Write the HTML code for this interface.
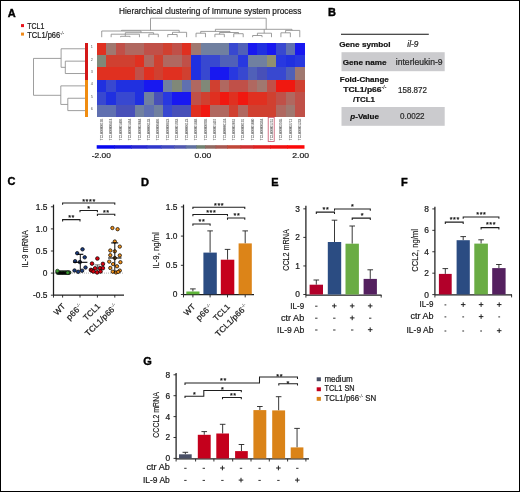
<!DOCTYPE html>
<html><head><meta charset="utf-8"><style>
html,body{margin:0;padding:0;background:#fff;}
body{width:520px;height:492px;overflow:hidden;}
svg{display:block;font-family:"Liberation Sans", sans-serif;will-change:transform;}
text{stroke:#1a1a1a;stroke-width:0.22px;}
text.nost{stroke:none;}
</style></head><body>
<svg width="520" height="492" viewBox="0 0 520 492">
<rect x="0" y="0" width="520" height="492" fill="#fff"/>
<text x="7.65" y="16.75" font-size="11.0" text-anchor="start" font-weight="bold" font-style="normal" fill="#000"  style="stroke:#000;stroke-width:0.4px">A</text>
<rect x="21.00" y="24.10" width="3.00" height="3.00" fill="#e8141c" />
<rect x="21.00" y="32.60" width="3.00" height="3.00" fill="#f08a1a" />
<text x="27.20" y="28.90" font-size="8.5" text-anchor="start" font-weight="normal" font-style="normal" fill="#1a1a1a" textLength="17.10" lengthAdjust="spacingAndGlyphs" >TCL1</text>
<text x="27.2" y="37.7" font-size="8.5" fill="#1a1a1a" textLength="37.0" lengthAdjust="spacingAndGlyphs">TCL1/p66<tspan font-size="4.8" dy="-2.8" style="stroke:none">-/-</tspan></text>
<text x="119.00" y="13.50" font-size="8.8" text-anchor="start" font-weight="normal" font-style="normal" fill="#1a1a1a" textLength="182.30" lengthAdjust="spacingAndGlyphs" >Hierarchical clustering of Immune system process</text>
<rect x="97.00" y="42.80" width="9.48" height="12.35" fill="#e03020" shape-rendering="crispEdges"/>
<rect x="106.43" y="42.80" width="9.48" height="12.35" fill="#a07870" shape-rendering="crispEdges"/>
<rect x="115.86" y="42.80" width="9.48" height="12.35" fill="#c05048" shape-rendering="crispEdges"/>
<rect x="125.30" y="42.80" width="9.48" height="12.35" fill="#b06860" shape-rendering="crispEdges"/>
<rect x="134.73" y="42.80" width="9.48" height="12.35" fill="#b06860" shape-rendering="crispEdges"/>
<rect x="144.16" y="42.80" width="9.48" height="12.35" fill="#c05048" shape-rendering="crispEdges"/>
<rect x="153.59" y="42.80" width="9.48" height="12.35" fill="#c05048" shape-rendering="crispEdges"/>
<rect x="163.02" y="42.80" width="9.48" height="12.35" fill="#d04030" shape-rendering="crispEdges"/>
<rect x="172.45" y="42.80" width="9.48" height="12.35" fill="#c05048" shape-rendering="crispEdges"/>
<rect x="181.89" y="42.80" width="9.48" height="12.35" fill="#e03020" shape-rendering="crispEdges"/>
<rect x="191.32" y="42.80" width="9.48" height="12.35" fill="#a07870" shape-rendering="crispEdges"/>
<rect x="200.75" y="42.80" width="9.48" height="12.35" fill="#7080a0" shape-rendering="crispEdges"/>
<rect x="210.18" y="42.80" width="9.48" height="12.35" fill="#7080a0" shape-rendering="crispEdges"/>
<rect x="219.61" y="42.80" width="9.48" height="12.35" fill="#7080a0" shape-rendering="crispEdges"/>
<rect x="229.05" y="42.80" width="9.48" height="12.35" fill="#3848d0" shape-rendering="crispEdges"/>
<rect x="238.48" y="42.80" width="9.48" height="12.35" fill="#5060b8" shape-rendering="crispEdges"/>
<rect x="247.91" y="42.80" width="9.48" height="12.35" fill="#1818f0" shape-rendering="crispEdges"/>
<rect x="257.34" y="42.80" width="9.48" height="12.35" fill="#2030e0" shape-rendering="crispEdges"/>
<rect x="266.77" y="42.80" width="9.48" height="12.35" fill="#1818f0" shape-rendering="crispEdges"/>
<rect x="276.20" y="42.80" width="9.48" height="12.35" fill="#3848d0" shape-rendering="crispEdges"/>
<rect x="285.64" y="42.80" width="9.48" height="12.35" fill="#6070b0" shape-rendering="crispEdges"/>
<rect x="295.07" y="42.80" width="9.48" height="12.35" fill="#1818f0" shape-rendering="crispEdges"/>
<rect x="97.00" y="55.10" width="9.48" height="12.35" fill="#808878" shape-rendering="crispEdges"/>
<rect x="106.43" y="55.10" width="9.48" height="12.35" fill="#d04030" shape-rendering="crispEdges"/>
<rect x="115.86" y="55.10" width="9.48" height="12.35" fill="#d04030" shape-rendering="crispEdges"/>
<rect x="125.30" y="55.10" width="9.48" height="12.35" fill="#d04030" shape-rendering="crispEdges"/>
<rect x="134.73" y="55.10" width="9.48" height="12.35" fill="#e03020" shape-rendering="crispEdges"/>
<rect x="144.16" y="55.10" width="9.48" height="12.35" fill="#b06860" shape-rendering="crispEdges"/>
<rect x="153.59" y="55.10" width="9.48" height="12.35" fill="#d04030" shape-rendering="crispEdges"/>
<rect x="163.02" y="55.10" width="9.48" height="12.35" fill="#b06860" shape-rendering="crispEdges"/>
<rect x="172.45" y="55.10" width="9.48" height="12.35" fill="#b06860" shape-rendering="crispEdges"/>
<rect x="181.89" y="55.10" width="9.48" height="12.35" fill="#c05048" shape-rendering="crispEdges"/>
<rect x="191.32" y="55.10" width="9.48" height="12.35" fill="#2030e0" shape-rendering="crispEdges"/>
<rect x="200.75" y="55.10" width="9.48" height="12.35" fill="#3848d0" shape-rendering="crispEdges"/>
<rect x="210.18" y="55.10" width="9.48" height="12.35" fill="#3848d0" shape-rendering="crispEdges"/>
<rect x="219.61" y="55.10" width="9.48" height="12.35" fill="#5060b8" shape-rendering="crispEdges"/>
<rect x="229.05" y="55.10" width="9.48" height="12.35" fill="#5060b8" shape-rendering="crispEdges"/>
<rect x="238.48" y="55.10" width="9.48" height="12.35" fill="#2838e0" shape-rendering="crispEdges"/>
<rect x="247.91" y="55.10" width="9.48" height="12.35" fill="#7080a0" shape-rendering="crispEdges"/>
<rect x="257.34" y="55.10" width="9.48" height="12.35" fill="#7080a0" shape-rendering="crispEdges"/>
<rect x="266.77" y="55.10" width="9.48" height="12.35" fill="#909070" shape-rendering="crispEdges"/>
<rect x="276.20" y="55.10" width="9.48" height="12.35" fill="#2838e0" shape-rendering="crispEdges"/>
<rect x="285.64" y="55.10" width="9.48" height="12.35" fill="#2030e0" shape-rendering="crispEdges"/>
<rect x="295.07" y="55.10" width="9.48" height="12.35" fill="#2838e0" shape-rendering="crispEdges"/>
<rect x="97.00" y="67.40" width="9.48" height="12.35" fill="#e03020" shape-rendering="crispEdges"/>
<rect x="106.43" y="67.40" width="9.48" height="12.35" fill="#e03020" shape-rendering="crispEdges"/>
<rect x="115.86" y="67.40" width="9.48" height="12.35" fill="#e03020" shape-rendering="crispEdges"/>
<rect x="125.30" y="67.40" width="9.48" height="12.35" fill="#e03020" shape-rendering="crispEdges"/>
<rect x="134.73" y="67.40" width="9.48" height="12.35" fill="#c05048" shape-rendering="crispEdges"/>
<rect x="144.16" y="67.40" width="9.48" height="12.35" fill="#e03020" shape-rendering="crispEdges"/>
<rect x="153.59" y="67.40" width="9.48" height="12.35" fill="#d04030" shape-rendering="crispEdges"/>
<rect x="163.02" y="67.40" width="9.48" height="12.35" fill="#e03020" shape-rendering="crispEdges"/>
<rect x="172.45" y="67.40" width="9.48" height="12.35" fill="#e03020" shape-rendering="crispEdges"/>
<rect x="181.89" y="67.40" width="9.48" height="12.35" fill="#d04030" shape-rendering="crispEdges"/>
<rect x="191.32" y="67.40" width="9.48" height="12.35" fill="#2030e0" shape-rendering="crispEdges"/>
<rect x="200.75" y="67.40" width="9.48" height="12.35" fill="#3848d0" shape-rendering="crispEdges"/>
<rect x="210.18" y="67.40" width="9.48" height="12.35" fill="#1818f0" shape-rendering="crispEdges"/>
<rect x="219.61" y="67.40" width="9.48" height="12.35" fill="#1818f0" shape-rendering="crispEdges"/>
<rect x="229.05" y="67.40" width="9.48" height="12.35" fill="#2838e0" shape-rendering="crispEdges"/>
<rect x="238.48" y="67.40" width="9.48" height="12.35" fill="#3848d0" shape-rendering="crispEdges"/>
<rect x="247.91" y="67.40" width="9.48" height="12.35" fill="#5060b8" shape-rendering="crispEdges"/>
<rect x="257.34" y="67.40" width="9.48" height="12.35" fill="#4850b8" shape-rendering="crispEdges"/>
<rect x="266.77" y="67.40" width="9.48" height="12.35" fill="#3848d0" shape-rendering="crispEdges"/>
<rect x="276.20" y="67.40" width="9.48" height="12.35" fill="#3848d0" shape-rendering="crispEdges"/>
<rect x="285.64" y="67.40" width="9.48" height="12.35" fill="#5060b8" shape-rendering="crispEdges"/>
<rect x="295.07" y="67.40" width="9.48" height="12.35" fill="#a07870" shape-rendering="crispEdges"/>
<rect x="97.00" y="79.70" width="9.48" height="12.35" fill="#2030e0" shape-rendering="crispEdges"/>
<rect x="106.43" y="79.70" width="9.48" height="12.35" fill="#3848d0" shape-rendering="crispEdges"/>
<rect x="115.86" y="79.70" width="9.48" height="12.35" fill="#2030e0" shape-rendering="crispEdges"/>
<rect x="125.30" y="79.70" width="9.48" height="12.35" fill="#2030e0" shape-rendering="crispEdges"/>
<rect x="134.73" y="79.70" width="9.48" height="12.35" fill="#2030e0" shape-rendering="crispEdges"/>
<rect x="144.16" y="79.70" width="9.48" height="12.35" fill="#1818f0" shape-rendering="crispEdges"/>
<rect x="153.59" y="79.70" width="9.48" height="12.35" fill="#1818f0" shape-rendering="crispEdges"/>
<rect x="163.02" y="79.70" width="9.48" height="12.35" fill="#7080a0" shape-rendering="crispEdges"/>
<rect x="172.45" y="79.70" width="9.48" height="12.35" fill="#808878" shape-rendering="crispEdges"/>
<rect x="181.89" y="79.70" width="9.48" height="12.35" fill="#6070b0" shape-rendering="crispEdges"/>
<rect x="191.32" y="79.70" width="9.48" height="12.35" fill="#b06860" shape-rendering="crispEdges"/>
<rect x="200.75" y="79.70" width="9.48" height="12.35" fill="#808878" shape-rendering="crispEdges"/>
<rect x="210.18" y="79.70" width="9.48" height="12.35" fill="#d04030" shape-rendering="crispEdges"/>
<rect x="219.61" y="79.70" width="9.48" height="12.35" fill="#b06860" shape-rendering="crispEdges"/>
<rect x="229.05" y="79.70" width="9.48" height="12.35" fill="#c05048" shape-rendering="crispEdges"/>
<rect x="238.48" y="79.70" width="9.48" height="12.35" fill="#c05048" shape-rendering="crispEdges"/>
<rect x="247.91" y="79.70" width="9.48" height="12.35" fill="#b06860" shape-rendering="crispEdges"/>
<rect x="257.34" y="79.70" width="9.48" height="12.35" fill="#a07870" shape-rendering="crispEdges"/>
<rect x="266.77" y="79.70" width="9.48" height="12.35" fill="#c05048" shape-rendering="crispEdges"/>
<rect x="276.20" y="79.70" width="9.48" height="12.35" fill="#f01810" shape-rendering="crispEdges"/>
<rect x="285.64" y="79.70" width="9.48" height="12.35" fill="#f01810" shape-rendering="crispEdges"/>
<rect x="295.07" y="79.70" width="9.48" height="12.35" fill="#d04030" shape-rendering="crispEdges"/>
<rect x="97.00" y="92.00" width="9.48" height="12.65" fill="#3848d0" shape-rendering="crispEdges"/>
<rect x="106.43" y="92.00" width="9.48" height="12.65" fill="#2030e0" shape-rendering="crispEdges"/>
<rect x="115.86" y="92.00" width="9.48" height="12.65" fill="#3848d0" shape-rendering="crispEdges"/>
<rect x="125.30" y="92.00" width="9.48" height="12.65" fill="#3848d0" shape-rendering="crispEdges"/>
<rect x="134.73" y="92.00" width="9.48" height="12.65" fill="#2030e0" shape-rendering="crispEdges"/>
<rect x="144.16" y="92.00" width="9.48" height="12.65" fill="#7080a0" shape-rendering="crispEdges"/>
<rect x="153.59" y="92.00" width="9.48" height="12.65" fill="#4850b8" shape-rendering="crispEdges"/>
<rect x="163.02" y="92.00" width="9.48" height="12.65" fill="#2838e0" shape-rendering="crispEdges"/>
<rect x="172.45" y="92.00" width="9.48" height="12.65" fill="#1818f0" shape-rendering="crispEdges"/>
<rect x="181.89" y="92.00" width="9.48" height="12.65" fill="#1818f0" shape-rendering="crispEdges"/>
<rect x="191.32" y="92.00" width="9.48" height="12.65" fill="#c05048" shape-rendering="crispEdges"/>
<rect x="200.75" y="92.00" width="9.48" height="12.65" fill="#d04030" shape-rendering="crispEdges"/>
<rect x="210.18" y="92.00" width="9.48" height="12.65" fill="#e03020" shape-rendering="crispEdges"/>
<rect x="219.61" y="92.00" width="9.48" height="12.65" fill="#f01810" shape-rendering="crispEdges"/>
<rect x="229.05" y="92.00" width="9.48" height="12.65" fill="#e03020" shape-rendering="crispEdges"/>
<rect x="238.48" y="92.00" width="9.48" height="12.65" fill="#f01810" shape-rendering="crispEdges"/>
<rect x="247.91" y="92.00" width="9.48" height="12.65" fill="#e03020" shape-rendering="crispEdges"/>
<rect x="257.34" y="92.00" width="9.48" height="12.65" fill="#e03020" shape-rendering="crispEdges"/>
<rect x="266.77" y="92.00" width="9.48" height="12.65" fill="#d04030" shape-rendering="crispEdges"/>
<rect x="276.20" y="92.00" width="9.48" height="12.65" fill="#c05048" shape-rendering="crispEdges"/>
<rect x="285.64" y="92.00" width="9.48" height="12.65" fill="#b06860" shape-rendering="crispEdges"/>
<rect x="295.07" y="92.00" width="9.48" height="12.65" fill="#c05048" shape-rendering="crispEdges"/>
<rect x="97.00" y="104.60" width="9.48" height="12.15" fill="#6070b0" shape-rendering="crispEdges"/>
<rect x="106.43" y="104.60" width="9.48" height="12.15" fill="#6070b0" shape-rendering="crispEdges"/>
<rect x="115.86" y="104.60" width="9.48" height="12.15" fill="#4850b8" shape-rendering="crispEdges"/>
<rect x="125.30" y="104.60" width="9.48" height="12.15" fill="#4850b8" shape-rendering="crispEdges"/>
<rect x="134.73" y="104.60" width="9.48" height="12.15" fill="#7080a0" shape-rendering="crispEdges"/>
<rect x="144.16" y="104.60" width="9.48" height="12.15" fill="#6070b0" shape-rendering="crispEdges"/>
<rect x="153.59" y="104.60" width="9.48" height="12.15" fill="#7080a0" shape-rendering="crispEdges"/>
<rect x="163.02" y="104.60" width="9.48" height="12.15" fill="#3848d0" shape-rendering="crispEdges"/>
<rect x="172.45" y="104.60" width="9.48" height="12.15" fill="#4850b8" shape-rendering="crispEdges"/>
<rect x="181.89" y="104.60" width="9.48" height="12.15" fill="#4850b8" shape-rendering="crispEdges"/>
<rect x="191.32" y="104.60" width="9.48" height="12.15" fill="#e03020" shape-rendering="crispEdges"/>
<rect x="200.75" y="104.60" width="9.48" height="12.15" fill="#f01810" shape-rendering="crispEdges"/>
<rect x="210.18" y="104.60" width="9.48" height="12.15" fill="#b06860" shape-rendering="crispEdges"/>
<rect x="219.61" y="104.60" width="9.48" height="12.15" fill="#b06860" shape-rendering="crispEdges"/>
<rect x="229.05" y="104.60" width="9.48" height="12.15" fill="#d04030" shape-rendering="crispEdges"/>
<rect x="238.48" y="104.60" width="9.48" height="12.15" fill="#b06860" shape-rendering="crispEdges"/>
<rect x="247.91" y="104.60" width="9.48" height="12.15" fill="#d04030" shape-rendering="crispEdges"/>
<rect x="257.34" y="104.60" width="9.48" height="12.15" fill="#d04030" shape-rendering="crispEdges"/>
<rect x="266.77" y="104.60" width="9.48" height="12.15" fill="#d04030" shape-rendering="crispEdges"/>
<rect x="276.20" y="104.60" width="9.48" height="12.15" fill="#b06860" shape-rendering="crispEdges"/>
<rect x="285.64" y="104.60" width="9.48" height="12.15" fill="#a07870" shape-rendering="crispEdges"/>
<rect x="295.07" y="104.60" width="9.48" height="12.15" fill="#c05048" shape-rendering="crispEdges"/>
<rect x="85.40" y="42.80" width="2.20" height="37.20" fill="#d41818" shape-rendering="crispEdges"/>
<rect x="85.40" y="80.00" width="2.20" height="36.60" fill="#f08c10" shape-rendering="crispEdges"/>
<text x="91.80" y="48.18" font-size="3.8" text-anchor="middle" font-weight="normal" font-style="normal" fill="#555" style="stroke:none">1</text>
<text x="91.80" y="60.55" font-size="3.8" text-anchor="middle" font-weight="normal" font-style="normal" fill="#555" style="stroke:none">2</text>
<text x="91.80" y="72.92" font-size="3.8" text-anchor="middle" font-weight="normal" font-style="normal" fill="#555" style="stroke:none">3</text>
<text x="91.80" y="85.28" font-size="3.8" text-anchor="middle" font-weight="normal" font-style="normal" fill="#555" style="stroke:none">4</text>
<text x="91.80" y="97.65" font-size="3.8" text-anchor="middle" font-weight="normal" font-style="normal" fill="#555" style="stroke:none">5</text>
<text x="91.80" y="110.02" font-size="3.8" text-anchor="middle" font-weight="normal" font-style="normal" fill="#555" style="stroke:none">6</text>
<line x1="61.10" y1="48.78" x2="85.00" y2="48.78" stroke="#8c8c8c" stroke-width="0.85"/>
<line x1="65.30" y1="61.15" x2="85.00" y2="61.15" stroke="#8c8c8c" stroke-width="0.85"/>
<line x1="65.30" y1="73.52" x2="85.00" y2="73.52" stroke="#8c8c8c" stroke-width="0.85"/>
<line x1="65.30" y1="61.15" x2="65.30" y2="73.52" stroke="#8c8c8c" stroke-width="0.85"/>
<line x1="61.10" y1="67.33" x2="65.30" y2="67.33" stroke="#8c8c8c" stroke-width="0.85"/>
<line x1="61.10" y1="48.78" x2="61.10" y2="67.33" stroke="#8c8c8c" stroke-width="0.85"/>
<line x1="33.50" y1="58.40" x2="61.10" y2="58.40" stroke="#8c8c8c" stroke-width="0.85"/>
<line x1="60.80" y1="85.88" x2="85.00" y2="85.88" stroke="#8c8c8c" stroke-width="0.85"/>
<line x1="67.80" y1="98.25" x2="85.00" y2="98.25" stroke="#8c8c8c" stroke-width="0.85"/>
<line x1="67.80" y1="110.62" x2="85.00" y2="110.62" stroke="#8c8c8c" stroke-width="0.85"/>
<line x1="67.80" y1="98.25" x2="67.80" y2="110.62" stroke="#8c8c8c" stroke-width="0.85"/>
<line x1="60.80" y1="104.43" x2="67.80" y2="104.43" stroke="#8c8c8c" stroke-width="0.85"/>
<line x1="60.80" y1="85.88" x2="60.80" y2="104.43" stroke="#8c8c8c" stroke-width="0.85"/>
<line x1="33.50" y1="95.30" x2="60.80" y2="95.30" stroke="#8c8c8c" stroke-width="0.85"/>
<line x1="33.50" y1="58.40" x2="33.50" y2="95.30" stroke="#8c8c8c" stroke-width="0.85"/>
<line x1="150.50" y1="18.20" x2="266.20" y2="18.20" stroke="#8c8c8c" stroke-width="0.85"/>
<line x1="150.50" y1="18.20" x2="150.50" y2="30.30" stroke="#8c8c8c" stroke-width="0.85"/>
<line x1="266.20" y1="18.20" x2="266.20" y2="29.30" stroke="#8c8c8c" stroke-width="0.85"/>
<line x1="121.50" y1="30.30" x2="179.20" y2="30.30" stroke="#8c8c8c" stroke-width="0.85"/>
<line x1="121.50" y1="30.30" x2="121.50" y2="31.00" stroke="#8c8c8c" stroke-width="0.85"/>
<line x1="101.72" y1="31.00" x2="141.00" y2="31.00" stroke="#8c8c8c" stroke-width="0.85"/>
<line x1="101.72" y1="31.00" x2="101.72" y2="37.20" stroke="#8c8c8c" stroke-width="0.85"/>
<line x1="141.00" y1="31.00" x2="141.00" y2="32.70" stroke="#8c8c8c" stroke-width="0.85"/>
<line x1="125.30" y1="32.70" x2="153.60" y2="32.70" stroke="#8c8c8c" stroke-width="0.85"/>
<line x1="125.30" y1="32.70" x2="125.30" y2="34.20" stroke="#8c8c8c" stroke-width="0.85"/>
<line x1="111.15" y1="34.20" x2="139.44" y2="34.20" stroke="#8c8c8c" stroke-width="0.85"/>
<line x1="111.15" y1="34.20" x2="111.15" y2="37.20" stroke="#8c8c8c" stroke-width="0.85"/>
<line x1="139.44" y1="34.20" x2="139.44" y2="37.20" stroke="#8c8c8c" stroke-width="0.85"/>
<line x1="125.30" y1="34.20" x2="125.30" y2="36.30" stroke="#8c8c8c" stroke-width="0.85"/>
<line x1="120.58" y1="36.30" x2="130.01" y2="36.30" stroke="#8c8c8c" stroke-width="0.85"/>
<line x1="120.58" y1="36.30" x2="120.58" y2="37.20" stroke="#8c8c8c" stroke-width="0.85"/>
<line x1="130.01" y1="36.30" x2="130.01" y2="37.20" stroke="#8c8c8c" stroke-width="0.85"/>
<line x1="153.60" y1="32.70" x2="153.60" y2="34.20" stroke="#8c8c8c" stroke-width="0.85"/>
<line x1="148.88" y1="34.20" x2="158.31" y2="34.20" stroke="#8c8c8c" stroke-width="0.85"/>
<line x1="148.88" y1="34.20" x2="148.88" y2="37.20" stroke="#8c8c8c" stroke-width="0.85"/>
<line x1="158.31" y1="34.20" x2="158.31" y2="37.20" stroke="#8c8c8c" stroke-width="0.85"/>
<line x1="179.20" y1="30.30" x2="179.20" y2="32.30" stroke="#8c8c8c" stroke-width="0.85"/>
<line x1="172.50" y1="32.30" x2="186.60" y2="32.30" stroke="#8c8c8c" stroke-width="0.85"/>
<line x1="186.60" y1="32.30" x2="186.60" y2="37.20" stroke="#8c8c8c" stroke-width="0.85"/>
<line x1="172.50" y1="32.30" x2="172.50" y2="34.50" stroke="#8c8c8c" stroke-width="0.85"/>
<line x1="167.74" y1="34.50" x2="177.17" y2="34.50" stroke="#8c8c8c" stroke-width="0.85"/>
<line x1="167.74" y1="34.50" x2="167.74" y2="37.20" stroke="#8c8c8c" stroke-width="0.85"/>
<line x1="177.17" y1="34.50" x2="177.17" y2="37.20" stroke="#8c8c8c" stroke-width="0.85"/>
<line x1="215.40" y1="29.30" x2="292.00" y2="29.30" stroke="#8c8c8c" stroke-width="0.85"/>
<line x1="215.40" y1="29.30" x2="215.40" y2="31.40" stroke="#8c8c8c" stroke-width="0.85"/>
<line x1="200.70" y1="31.40" x2="230.00" y2="31.40" stroke="#8c8c8c" stroke-width="0.85"/>
<line x1="200.70" y1="31.40" x2="200.70" y2="33.20" stroke="#8c8c8c" stroke-width="0.85"/>
<line x1="196.03" y1="33.20" x2="205.47" y2="33.20" stroke="#8c8c8c" stroke-width="0.85"/>
<line x1="196.03" y1="33.20" x2="196.03" y2="37.20" stroke="#8c8c8c" stroke-width="0.85"/>
<line x1="205.47" y1="33.20" x2="205.47" y2="37.20" stroke="#8c8c8c" stroke-width="0.85"/>
<line x1="230.00" y1="31.40" x2="230.00" y2="32.50" stroke="#8c8c8c" stroke-width="0.85"/>
<line x1="219.60" y1="32.50" x2="238.50" y2="32.50" stroke="#8c8c8c" stroke-width="0.85"/>
<line x1="219.60" y1="32.50" x2="219.60" y2="34.20" stroke="#8c8c8c" stroke-width="0.85"/>
<line x1="214.90" y1="34.20" x2="224.33" y2="34.20" stroke="#8c8c8c" stroke-width="0.85"/>
<line x1="214.90" y1="34.20" x2="214.90" y2="37.20" stroke="#8c8c8c" stroke-width="0.85"/>
<line x1="224.33" y1="34.20" x2="224.33" y2="37.20" stroke="#8c8c8c" stroke-width="0.85"/>
<line x1="238.50" y1="32.50" x2="238.50" y2="33.70" stroke="#8c8c8c" stroke-width="0.85"/>
<line x1="233.76" y1="33.70" x2="243.19" y2="33.70" stroke="#8c8c8c" stroke-width="0.85"/>
<line x1="233.76" y1="33.70" x2="233.76" y2="37.20" stroke="#8c8c8c" stroke-width="0.85"/>
<line x1="243.19" y1="33.70" x2="243.19" y2="37.20" stroke="#8c8c8c" stroke-width="0.85"/>
<line x1="264.20" y1="29.30" x2="264.20" y2="33.20" stroke="#8c8c8c" stroke-width="0.85"/>
<line x1="257.40" y1="33.20" x2="271.49" y2="33.20" stroke="#8c8c8c" stroke-width="0.85"/>
<line x1="271.49" y1="33.20" x2="271.49" y2="37.20" stroke="#8c8c8c" stroke-width="0.85"/>
<line x1="257.40" y1="33.20" x2="257.40" y2="35.50" stroke="#8c8c8c" stroke-width="0.85"/>
<line x1="252.62" y1="35.50" x2="262.06" y2="35.50" stroke="#8c8c8c" stroke-width="0.85"/>
<line x1="252.62" y1="35.50" x2="252.62" y2="37.20" stroke="#8c8c8c" stroke-width="0.85"/>
<line x1="262.06" y1="35.50" x2="262.06" y2="37.20" stroke="#8c8c8c" stroke-width="0.85"/>
<line x1="292.00" y1="29.30" x2="292.00" y2="30.40" stroke="#8c8c8c" stroke-width="0.85"/>
<line x1="285.60" y1="30.40" x2="299.78" y2="30.40" stroke="#8c8c8c" stroke-width="0.85"/>
<line x1="299.78" y1="30.40" x2="299.78" y2="37.20" stroke="#8c8c8c" stroke-width="0.85"/>
<line x1="285.60" y1="30.40" x2="285.60" y2="32.80" stroke="#8c8c8c" stroke-width="0.85"/>
<line x1="280.92" y1="32.80" x2="290.35" y2="32.80" stroke="#8c8c8c" stroke-width="0.85"/>
<line x1="280.92" y1="32.80" x2="280.92" y2="37.20" stroke="#8c8c8c" stroke-width="0.85"/>
<line x1="290.35" y1="32.80" x2="290.35" y2="37.20" stroke="#8c8c8c" stroke-width="0.85"/>
<text x="102.92" y="140.20" font-size="3.6" fill="#555" style="stroke:#777;stroke-width:0.08px" transform="rotate(-90 102.92 140.20)" textLength="21.5" lengthAdjust="spacingAndGlyphs">TC1400000196</text>
<text x="112.35" y="140.20" font-size="3.6" fill="#555" style="stroke:#777;stroke-width:0.08px" transform="rotate(-90 112.35 140.20)" textLength="21.5" lengthAdjust="spacingAndGlyphs">TC1400000474</text>
<text x="121.78" y="140.20" font-size="3.6" fill="#555" style="stroke:#777;stroke-width:0.08px" transform="rotate(-90 121.78 140.20)" textLength="21.5" lengthAdjust="spacingAndGlyphs">TC1400001406</text>
<text x="131.21" y="140.20" font-size="3.6" fill="#555" style="stroke:#777;stroke-width:0.08px" transform="rotate(-90 131.21 140.20)" textLength="21.5" lengthAdjust="spacingAndGlyphs">TC1400001464</text>
<text x="140.64" y="140.20" font-size="3.6" fill="#555" style="stroke:#777;stroke-width:0.08px" transform="rotate(-90 140.64 140.20)" textLength="21.5" lengthAdjust="spacingAndGlyphs">TC1400002044</text>
<text x="150.07" y="140.20" font-size="3.6" fill="#555" style="stroke:#777;stroke-width:0.08px" transform="rotate(-90 150.07 140.20)" textLength="21.5" lengthAdjust="spacingAndGlyphs">TC1400001133</text>
<text x="159.51" y="140.20" font-size="3.6" fill="#555" style="stroke:#777;stroke-width:0.08px" transform="rotate(-90 159.51 140.20)" textLength="21.5" lengthAdjust="spacingAndGlyphs">TC1400000406</text>
<text x="168.94" y="140.20" font-size="3.6" fill="#555" style="stroke:#777;stroke-width:0.08px" transform="rotate(-90 168.94 140.20)" textLength="21.5" lengthAdjust="spacingAndGlyphs">TC1400000823</text>
<text x="178.37" y="140.20" font-size="3.6" fill="#555" style="stroke:#777;stroke-width:0.08px" transform="rotate(-90 178.37 140.20)" textLength="21.5" lengthAdjust="spacingAndGlyphs">TC1400001963</text>
<text x="187.80" y="140.20" font-size="3.6" fill="#555" style="stroke:#777;stroke-width:0.08px" transform="rotate(-90 187.80 140.20)" textLength="21.5" lengthAdjust="spacingAndGlyphs">TC1400001123</text>
<text x="197.23" y="140.20" font-size="3.6" fill="#555" style="stroke:#777;stroke-width:0.08px" transform="rotate(-90 197.23 140.20)" textLength="21.5" lengthAdjust="spacingAndGlyphs">TC1400001848</text>
<text x="206.67" y="140.20" font-size="3.6" fill="#555" style="stroke:#777;stroke-width:0.08px" transform="rotate(-90 206.67 140.20)" textLength="21.5" lengthAdjust="spacingAndGlyphs">TC1400000996</text>
<text x="216.10" y="140.20" font-size="3.6" fill="#555" style="stroke:#777;stroke-width:0.08px" transform="rotate(-90 216.10 140.20)" textLength="21.5" lengthAdjust="spacingAndGlyphs">TC1400001437</text>
<text x="225.53" y="140.20" font-size="3.6" fill="#555" style="stroke:#777;stroke-width:0.08px" transform="rotate(-90 225.53 140.20)" textLength="21.5" lengthAdjust="spacingAndGlyphs">TC1400001118</text>
<text x="234.96" y="140.20" font-size="3.6" fill="#555" style="stroke:#777;stroke-width:0.08px" transform="rotate(-90 234.96 140.20)" textLength="21.5" lengthAdjust="spacingAndGlyphs">TC1400002062</text>
<text x="244.39" y="140.20" font-size="3.6" fill="#555" style="stroke:#777;stroke-width:0.08px" transform="rotate(-90 244.39 140.20)" textLength="21.5" lengthAdjust="spacingAndGlyphs">TC1400000191</text>
<text x="253.82" y="140.20" font-size="3.6" fill="#555" style="stroke:#777;stroke-width:0.08px" transform="rotate(-90 253.82 140.20)" textLength="21.5" lengthAdjust="spacingAndGlyphs">TC1400001040</text>
<text x="263.26" y="140.20" font-size="3.6" fill="#555" style="stroke:#777;stroke-width:0.08px" transform="rotate(-90 263.26 140.20)" textLength="21.5" lengthAdjust="spacingAndGlyphs">TC1400000334</text>
<text x="272.69" y="140.20" font-size="3.6" fill="#555" style="stroke:#777;stroke-width:0.08px" transform="rotate(-90 272.69 140.20)" textLength="21.5" lengthAdjust="spacingAndGlyphs">TC1400001751</text>
<text x="282.12" y="140.20" font-size="3.6" fill="#555" style="stroke:#777;stroke-width:0.08px" transform="rotate(-90 282.12 140.20)" textLength="21.5" lengthAdjust="spacingAndGlyphs">TC1400002105</text>
<text x="291.55" y="140.20" font-size="3.6" fill="#555" style="stroke:#777;stroke-width:0.08px" transform="rotate(-90 291.55 140.20)" textLength="21.5" lengthAdjust="spacingAndGlyphs">TC1400002712</text>
<text x="300.98" y="140.20" font-size="3.6" fill="#555" style="stroke:#777;stroke-width:0.08px" transform="rotate(-90 300.98 140.20)" textLength="21.5" lengthAdjust="spacingAndGlyphs">TC1400001233</text>
<rect x="268.2" y="117.4" width="6.0" height="24.0" fill="none" stroke="#c8506a" stroke-width="0.8"/>
<rect x="96.70" y="145.20" width="18.00" height="3.50" fill="#0808f0" />
<rect x="114.00" y="145.20" width="17.70" height="3.50" fill="#1515e0" />
<rect x="131.00" y="145.20" width="16.40" height="3.50" fill="#2626d2" />
<rect x="146.70" y="145.20" width="14.90" height="3.50" fill="#3038cc" />
<rect x="160.90" y="145.20" width="13.90" height="3.50" fill="#4048c0" />
<rect x="174.10" y="145.20" width="12.30" height="3.50" fill="#5058b0" />
<rect x="185.70" y="145.20" width="11.30" height="3.50" fill="#6070a0" />
<rect x="196.30" y="145.20" width="9.60" height="3.50" fill="#708070" />
<rect x="205.20" y="145.20" width="11.10" height="3.50" fill="#906860" />
<rect x="215.60" y="145.20" width="12.40" height="3.50" fill="#a85850" />
<rect x="227.30" y="145.20" width="13.90" height="3.50" fill="#c04838" />
<rect x="240.50" y="145.20" width="13.70" height="3.50" fill="#d03030" />
<rect x="253.50" y="145.20" width="17.50" height="3.50" fill="#e02020" />
<rect x="270.30" y="145.20" width="17.50" height="3.50" fill="#f01010" />
<rect x="287.10" y="145.20" width="17.40" height="3.50" fill="#fc0808" />
<text x="91.80" y="157.80" font-size="8.0" text-anchor="start" font-weight="normal" font-style="normal" fill="#222" textLength="19.00" lengthAdjust="spacingAndGlyphs" >-2.00</text>
<text x="194.60" y="157.80" font-size="8.0" text-anchor="start" font-weight="normal" font-style="normal" fill="#222" textLength="16.60" lengthAdjust="spacingAndGlyphs" >0.00</text>
<text x="292.30" y="157.80" font-size="8.0" text-anchor="start" font-weight="normal" font-style="normal" fill="#222" textLength="16.80" lengthAdjust="spacingAndGlyphs" >2.00</text>
<text x="328.05" y="16.45" font-size="11.0" text-anchor="start" font-weight="bold" font-style="normal" fill="#000"  style="stroke:#000;stroke-width:0.4px">B</text>
<line x1="341.00" y1="34.20" x2="428.80" y2="34.20" stroke="#111" stroke-width="1.1"/>
<rect x="341.50" y="52.20" width="103.20" height="19.00" fill="#cbcbce" />
<rect x="341.50" y="107.00" width="103.20" height="18.80" fill="#cbcbce" />
<text x="339.20" y="47.40" font-size="7.9" text-anchor="start" font-weight="bold" font-style="normal" fill="#111" textLength="51.30" lengthAdjust="spacingAndGlyphs" >Gene symbol</text>
<text x="407.30" y="47.30" font-size="8.2" text-anchor="start" font-weight="normal" font-style="italic" fill="#333" textLength="11.10" lengthAdjust="spacingAndGlyphs" >il-9</text>
<text x="342.70" y="64.80" font-size="7.9" text-anchor="start" font-weight="bold" font-style="normal" fill="#111" textLength="43.80" lengthAdjust="spacingAndGlyphs" >Gene name</text>
<text x="395.80" y="64.80" font-size="8.2" text-anchor="start" font-weight="normal" font-style="normal" fill="#333" textLength="46.80" lengthAdjust="spacingAndGlyphs" >interleukin-9</text>
<text x="364.30" y="82.10" font-size="7.9" text-anchor="middle" font-weight="bold" font-style="normal" fill="#111" textLength="48.90" lengthAdjust="spacingAndGlyphs" >Fold-Change</text>
<text x="343.2" y="92.1" font-size="7.9" font-weight="bold" fill="#111" textLength="43.3" lengthAdjust="spacingAndGlyphs">TCL1/p66<tspan font-size="4.8" dy="-3.4" style="stroke:none">-/-</tspan></text>
<text x="353.00" y="101.70" font-size="7.9" text-anchor="start" font-weight="bold" font-style="normal" fill="#111" textLength="22.00" lengthAdjust="spacingAndGlyphs" >/TCL1</text>
<text x="398.00" y="93.10" font-size="8.2" text-anchor="start" font-weight="normal" font-style="normal" fill="#333" textLength="29.00" lengthAdjust="spacingAndGlyphs" >158.872</text>
<text x="350.3" y="119.3" font-size="7.9" font-weight="bold" fill="#111" textLength="28.6" lengthAdjust="spacingAndGlyphs"><tspan font-style="italic">p</tspan>-Value</text>
<text x="400.00" y="119.30" font-size="8.2" text-anchor="start" font-weight="normal" font-style="normal" fill="#333" textLength="24.60" lengthAdjust="spacingAndGlyphs" >0.0022</text>
<text x="7.45" y="185.45" font-size="11.0" text-anchor="start" font-weight="bold" font-style="normal" fill="#000"  style="stroke:#000;stroke-width:0.4px">C</text>
<line x1="53.50" y1="204.60" x2="53.50" y2="295.00" stroke="#1e1e1e" stroke-width="1.25"/>
<line x1="50.90" y1="206.80" x2="53.50" y2="206.80" stroke="#1e1e1e" stroke-width="0.9"/>
<text x="47.50" y="209.70" font-size="8.4" text-anchor="end" font-weight="normal" font-style="normal" fill="#1a1a1a" >1.5</text>
<line x1="50.90" y1="228.90" x2="53.50" y2="228.90" stroke="#1e1e1e" stroke-width="0.9"/>
<text x="47.50" y="231.80" font-size="8.4" text-anchor="end" font-weight="normal" font-style="normal" fill="#1a1a1a" >1.0</text>
<line x1="50.90" y1="251.00" x2="53.50" y2="251.00" stroke="#1e1e1e" stroke-width="0.9"/>
<text x="47.50" y="253.90" font-size="8.4" text-anchor="end" font-weight="normal" font-style="normal" fill="#1a1a1a" >0.5</text>
<line x1="50.90" y1="273.10" x2="53.50" y2="273.10" stroke="#1e1e1e" stroke-width="0.9"/>
<text x="47.50" y="276.00" font-size="8.4" text-anchor="end" font-weight="normal" font-style="normal" fill="#1a1a1a" >0</text>
<line x1="50.90" y1="295.20" x2="53.50" y2="295.20" stroke="#1e1e1e" stroke-width="0.9"/>
<text x="47.50" y="298.10" font-size="8.4" text-anchor="end" font-weight="normal" font-style="normal" fill="#1a1a1a" >-0.5</text>
<line x1="53.50" y1="295.00" x2="124.00" y2="295.00" stroke="#1e1e1e" stroke-width="1.25"/>
<line x1="53.50" y1="295.00" x2="53.50" y2="297.60" stroke="#1e1e1e" stroke-width="0.9"/>
<line x1="62.60" y1="295.00" x2="62.60" y2="297.60" stroke="#1e1e1e" stroke-width="0.9"/>
<line x1="80.00" y1="295.00" x2="80.00" y2="297.60" stroke="#1e1e1e" stroke-width="0.9"/>
<line x1="97.40" y1="295.00" x2="97.40" y2="297.60" stroke="#1e1e1e" stroke-width="0.9"/>
<line x1="114.80" y1="295.00" x2="114.80" y2="297.60" stroke="#1e1e1e" stroke-width="0.9"/>
<line x1="54" y1="273.10" x2="124" y2="273.10" stroke="#777" stroke-width="0.7" stroke-dasharray="0.8,1.2"/>
<text x="27.80" y="248.90" font-size="8.6" fill="#1a1a1a" style="stroke-width:0.15px" text-anchor="middle" transform="rotate(-90 27.80 248.90)" textLength="37.40" lengthAdjust="spacingAndGlyphs">IL-9 mRNA</text>
<circle cx="57.60" cy="272.60" r="1.8" fill="#2f7f2f" stroke="#000" stroke-width="0.8"/>
<circle cx="59.05" cy="272.60" r="1.8" fill="#2f7f2f" stroke="#000" stroke-width="0.8"/>
<circle cx="60.50" cy="272.60" r="1.8" fill="#2f7f2f" stroke="#000" stroke-width="0.8"/>
<circle cx="61.95" cy="272.60" r="1.8" fill="#2f7f2f" stroke="#000" stroke-width="0.8"/>
<circle cx="63.40" cy="272.60" r="1.8" fill="#2f7f2f" stroke="#000" stroke-width="0.8"/>
<circle cx="64.85" cy="272.60" r="1.8" fill="#2f7f2f" stroke="#000" stroke-width="0.8"/>
<circle cx="66.30" cy="272.60" r="1.8" fill="#2f7f2f" stroke="#000" stroke-width="0.8"/>
<circle cx="67.75" cy="272.60" r="1.8" fill="#2f7f2f" stroke="#000" stroke-width="0.8"/>
<circle cx="69.20" cy="272.60" r="1.8" fill="#2f7f2f" stroke="#000" stroke-width="0.8"/>
<line x1="58.20" y1="273.00" x2="69.60" y2="273.00" stroke="#050505" stroke-width="2.4"/>
<circle cx="57.40" cy="271.00" r="1.8" fill="#3a9a30" stroke="#111" stroke-width="0.6"/>
<circle cx="67.70" cy="272.70" r="1.8" fill="#3a9a30" stroke="#111" stroke-width="0.6"/>
<circle cx="82.50" cy="249.30" r="1.75" fill="#1b3c7e" stroke="#000" stroke-width="0.7"/>
<circle cx="77.20" cy="253.20" r="1.75" fill="#1b3c7e" stroke="#000" stroke-width="0.7"/>
<circle cx="84.70" cy="257.30" r="1.75" fill="#1b3c7e" stroke="#000" stroke-width="0.7"/>
<circle cx="75.10" cy="261.20" r="1.75" fill="#1b3c7e" stroke="#000" stroke-width="0.7"/>
<circle cx="79.90" cy="262.10" r="1.75" fill="#1b3c7e" stroke="#000" stroke-width="0.7"/>
<circle cx="85.50" cy="267.50" r="1.75" fill="#1b3c7e" stroke="#000" stroke-width="0.7"/>
<circle cx="74.50" cy="270.50" r="1.75" fill="#1b3c7e" stroke="#000" stroke-width="0.7"/>
<circle cx="78.20" cy="271.80" r="1.75" fill="#1b3c7e" stroke="#000" stroke-width="0.7"/>
<circle cx="82.10" cy="270.70" r="1.75" fill="#1b3c7e" stroke="#000" stroke-width="0.7"/>
<line x1="73.20" y1="262.30" x2="87.40" y2="262.30" stroke="#000" stroke-width="1.1"/>
<line x1="80.30" y1="254.30" x2="80.30" y2="270.70" stroke="#111" stroke-width="1.0"/>
<line x1="77.30" y1="254.30" x2="83.30" y2="254.30" stroke="#000" stroke-width="1.1"/>
<line x1="97.40" y1="264.90" x2="97.40" y2="272.70" stroke="#333" stroke-width="0.8"/>
<line x1="94.50" y1="264.90" x2="100.20" y2="264.90" stroke="#444" stroke-width="0.8"/>
<circle cx="97.40" cy="258.50" r="1.85" fill="#d8000e" stroke="#000" stroke-width="0.7"/>
<circle cx="92.00" cy="263.60" r="1.85" fill="#d8000e" stroke="#000" stroke-width="0.7"/>
<circle cx="102.90" cy="263.90" r="1.85" fill="#d8000e" stroke="#000" stroke-width="0.7"/>
<circle cx="95.10" cy="268.30" r="1.85" fill="#d8000e" stroke="#000" stroke-width="0.7"/>
<circle cx="99.90" cy="268.20" r="1.85" fill="#d8000e" stroke="#000" stroke-width="0.7"/>
<circle cx="102.90" cy="268.10" r="1.85" fill="#d8000e" stroke="#000" stroke-width="0.7"/>
<circle cx="90.90" cy="269.90" r="1.85" fill="#d8000e" stroke="#000" stroke-width="0.7"/>
<circle cx="91.70" cy="270.50" r="1.85" fill="#d8000e" stroke="#000" stroke-width="0.7"/>
<circle cx="93.40" cy="271.50" r="1.85" fill="#d8000e" stroke="#000" stroke-width="0.7"/>
<circle cx="97.10" cy="272.40" r="1.85" fill="#d8000e" stroke="#000" stroke-width="0.7"/>
<circle cx="100.50" cy="271.50" r="1.85" fill="#d8000e" stroke="#000" stroke-width="0.7"/>
<circle cx="112.40" cy="228.00" r="1.7" fill="#f0901a" stroke="#000" stroke-width="0.7"/>
<circle cx="117.60" cy="229.20" r="1.7" fill="#f0901a" stroke="#000" stroke-width="0.7"/>
<circle cx="114.80" cy="241.50" r="1.7" fill="#f0901a" stroke="#000" stroke-width="0.7"/>
<circle cx="119.80" cy="246.60" r="1.7" fill="#f0901a" stroke="#000" stroke-width="0.7"/>
<circle cx="110.30" cy="250.50" r="1.7" fill="#f0901a" stroke="#000" stroke-width="0.7"/>
<circle cx="114.80" cy="251.30" r="1.7" fill="#f0901a" stroke="#000" stroke-width="0.7"/>
<circle cx="110.30" cy="255.20" r="1.7" fill="#f0901a" stroke="#000" stroke-width="0.7"/>
<circle cx="119.80" cy="255.40" r="1.7" fill="#f0901a" stroke="#000" stroke-width="0.7"/>
<circle cx="114.80" cy="258.00" r="1.7" fill="#f0901a" stroke="#000" stroke-width="0.7"/>
<circle cx="109.20" cy="261.60" r="1.7" fill="#f0901a" stroke="#000" stroke-width="0.7"/>
<circle cx="120.40" cy="262.20" r="1.7" fill="#f0901a" stroke="#000" stroke-width="0.7"/>
<circle cx="113.10" cy="264.10" r="1.7" fill="#f0901a" stroke="#000" stroke-width="0.7"/>
<circle cx="117.00" cy="266.30" r="1.7" fill="#f0901a" stroke="#000" stroke-width="0.7"/>
<circle cx="110.30" cy="268.00" r="1.7" fill="#f0901a" stroke="#000" stroke-width="0.7"/>
<circle cx="119.80" cy="270.60" r="1.7" fill="#f0901a" stroke="#000" stroke-width="0.7"/>
<circle cx="112.80" cy="271.70" r="1.7" fill="#f0901a" stroke="#000" stroke-width="0.7"/>
<circle cx="115.90" cy="272.50" r="1.7" fill="#f0901a" stroke="#000" stroke-width="0.7"/>
<circle cx="118.20" cy="271.90" r="1.7" fill="#f0901a" stroke="#000" stroke-width="0.7"/>
<line x1="108.10" y1="258.00" x2="121.50" y2="258.00" stroke="#000" stroke-width="1.1"/>
<line x1="114.80" y1="242.90" x2="114.80" y2="272.90" stroke="#111" stroke-width="1.0"/>
<line x1="111.20" y1="242.90" x2="118.20" y2="242.90" stroke="#000" stroke-width="1.1"/>
<path d="M62.60,204.70 V202.90 H114.80 V204.70" fill="none" stroke="#1e1e1e" stroke-width="1.05"/>
<text x="89.00" y="203.50" font-size="7.2" text-anchor="middle" font-weight="normal" font-style="normal" fill="#000" letter-spacing="0.6">****</text>
<path d="M80.00,212.20 V210.40 H97.40 V212.20" fill="none" stroke="#1e1e1e" stroke-width="1.05"/>
<text x="89.00" y="211.20" font-size="7.2" text-anchor="middle" font-weight="normal" font-style="normal" fill="#000" letter-spacing="0.6">*</text>
<path d="M97.40,216.00 V214.20 H114.80 V216.00" fill="none" stroke="#1e1e1e" stroke-width="1.05"/>
<text x="106.30" y="214.60" font-size="7.2" text-anchor="middle" font-weight="normal" font-style="normal" fill="#000" letter-spacing="0.6">**</text>
<path d="M62.60,221.40 V219.60 H80.00 V221.40" fill="none" stroke="#1e1e1e" stroke-width="1.05"/>
<text x="71.60" y="220.20" font-size="7.2" text-anchor="middle" font-weight="normal" font-style="normal" fill="#000" letter-spacing="0.6">**</text>
<text x="65.90" y="306.80" font-size="8.2" fill="#1a1a1a" text-anchor="end" transform="rotate(-45 65.90 306.80)">WT</text>
<text x="83.30" y="306.80" font-size="8.2" fill="#1a1a1a" text-anchor="end" transform="rotate(-45 83.30 306.80)" textLength="19.60" lengthAdjust="spacingAndGlyphs">p66<tspan font-size="4.6" dy="-3.2" style="stroke:none">-/-</tspan></text>
<text x="100.70" y="306.80" font-size="8.2" fill="#1a1a1a" text-anchor="end" transform="rotate(-45 100.70 306.80)">TCL1</text>
<text x="118.10" y="306.80" font-size="8.2" fill="#1a1a1a" text-anchor="end" transform="rotate(-45 118.10 306.80)" textLength="42.20" lengthAdjust="spacingAndGlyphs">TCL1/p66<tspan font-size="4.6" dy="-3.2" style="stroke:none">-/-</tspan></text>
<text x="140.95" y="185.75" font-size="11.0" text-anchor="start" font-weight="bold" font-style="normal" fill="#000"  style="stroke:#000;stroke-width:0.4px">D</text>
<line x1="183.50" y1="204.60" x2="183.50" y2="294.70" stroke="#1e1e1e" stroke-width="1.25"/>
<line x1="180.90" y1="206.90" x2="183.50" y2="206.90" stroke="#1e1e1e" stroke-width="0.9"/>
<text x="177.50" y="209.80" font-size="8.4" text-anchor="end" font-weight="normal" font-style="normal" fill="#1a1a1a" >1.5</text>
<line x1="180.90" y1="236.10" x2="183.50" y2="236.10" stroke="#1e1e1e" stroke-width="0.9"/>
<text x="177.50" y="239.00" font-size="8.4" text-anchor="end" font-weight="normal" font-style="normal" fill="#1a1a1a" >1.0</text>
<line x1="180.90" y1="265.30" x2="183.50" y2="265.30" stroke="#1e1e1e" stroke-width="0.9"/>
<text x="177.50" y="268.20" font-size="8.4" text-anchor="end" font-weight="normal" font-style="normal" fill="#1a1a1a" >0.5</text>
<line x1="180.90" y1="294.50" x2="183.50" y2="294.50" stroke="#1e1e1e" stroke-width="0.9"/>
<text x="177.50" y="297.40" font-size="8.4" text-anchor="end" font-weight="normal" font-style="normal" fill="#1a1a1a" >0</text>
<line x1="183.50" y1="294.70" x2="254.00" y2="294.70" stroke="#1e1e1e" stroke-width="1.25"/>
<line x1="183.50" y1="294.70" x2="183.50" y2="297.40" stroke="#1e1e1e" stroke-width="0.9"/>
<line x1="192.90" y1="294.70" x2="192.90" y2="297.40" stroke="#1e1e1e" stroke-width="0.9"/>
<line x1="210.10" y1="294.70" x2="210.10" y2="297.40" stroke="#1e1e1e" stroke-width="0.9"/>
<line x1="227.50" y1="294.70" x2="227.50" y2="297.40" stroke="#1e1e1e" stroke-width="0.9"/>
<line x1="245.20" y1="294.70" x2="245.20" y2="297.40" stroke="#1e1e1e" stroke-width="0.9"/>
<line x1="192.90" y1="288.90" x2="192.90" y2="291.50" stroke="#222" stroke-width="0.9"/>
<line x1="190.10" y1="288.90" x2="195.70" y2="288.90" stroke="#222" stroke-width="0.9"/>
<rect x="186.30" y="291.50" width="13.20" height="2.80" fill="#5fb53a" />
<line x1="210.10" y1="230.90" x2="210.10" y2="252.60" stroke="#222" stroke-width="0.9"/>
<line x1="207.30" y1="230.90" x2="212.90" y2="230.90" stroke="#222" stroke-width="0.9"/>
<rect x="203.40" y="252.60" width="13.40" height="41.70" fill="#2b4c82" />
<line x1="227.55" y1="249.40" x2="227.55" y2="259.70" stroke="#222" stroke-width="0.9"/>
<line x1="224.75" y1="249.40" x2="230.35" y2="249.40" stroke="#222" stroke-width="0.9"/>
<rect x="220.80" y="259.70" width="13.50" height="34.60" fill="#c5001c" />
<line x1="245.20" y1="230.90" x2="245.20" y2="243.40" stroke="#222" stroke-width="0.9"/>
<line x1="242.40" y1="230.90" x2="248.00" y2="230.90" stroke="#222" stroke-width="0.9"/>
<rect x="238.60" y="243.40" width="13.20" height="50.90" fill="#dc8418" />
<text x="158.80" y="250.45" font-size="8.6" fill="#1a1a1a" style="stroke-width:0.15px" text-anchor="middle" transform="rotate(-90 158.80 250.45)" textLength="36.30" lengthAdjust="spacingAndGlyphs">IL-9, ng/ml</text>
<path d="M192.90,209.00 V207.20 H244.80 V209.00" fill="none" stroke="#1e1e1e" stroke-width="1.05"/>
<text x="219.15" y="207.60" font-size="7.2" text-anchor="middle" font-weight="normal" font-style="normal" fill="#000" letter-spacing="0.6">***</text>
<path d="M192.90,216.20 V214.40 H227.50 V216.20" fill="none" stroke="#1e1e1e" stroke-width="1.05"/>
<text x="211.30" y="214.60" font-size="7.2" text-anchor="middle" font-weight="normal" font-style="normal" fill="#000" letter-spacing="0.6">***</text>
<path d="M227.50,219.70 V217.90 H244.80 V219.70" fill="none" stroke="#1e1e1e" stroke-width="1.05"/>
<text x="236.90" y="218.10" font-size="7.2" text-anchor="middle" font-weight="normal" font-style="normal" fill="#000" letter-spacing="0.6">**</text>
<path d="M192.90,225.80 V224.00 H210.10 V225.80" fill="none" stroke="#1e1e1e" stroke-width="1.05"/>
<text x="202.00" y="224.00" font-size="7.2" text-anchor="middle" font-weight="normal" font-style="normal" fill="#000" letter-spacing="0.6">**</text>
<text x="195.90" y="307.30" font-size="8.2" fill="#1a1a1a" text-anchor="end" transform="rotate(-45 195.90 307.30)">WT</text>
<text x="213.10" y="307.30" font-size="8.2" fill="#1a1a1a" text-anchor="end" transform="rotate(-45 213.10 307.30)" textLength="19.60" lengthAdjust="spacingAndGlyphs">p66<tspan font-size="4.6" dy="-3.2" style="stroke:none">-/-</tspan></text>
<text x="230.60" y="307.30" font-size="8.2" fill="#1a1a1a" text-anchor="end" transform="rotate(-45 230.60 307.30)">TCL1</text>
<text x="248.30" y="307.30" font-size="8.2" fill="#1a1a1a" text-anchor="end" transform="rotate(-45 248.30 307.30)" textLength="42.20" lengthAdjust="spacingAndGlyphs">TCL1/p66<tspan font-size="4.6" dy="-3.2" style="stroke:none">-/-</tspan></text>
<text x="271.25" y="185.75" font-size="11.0" text-anchor="start" font-weight="bold" font-style="normal" fill="#000"  style="stroke:#000;stroke-width:0.4px">E</text>
<line x1="305.90" y1="205.70" x2="305.90" y2="295.00" stroke="#1e1e1e" stroke-width="1.25"/>
<line x1="303.30" y1="208.85" x2="305.90" y2="208.85" stroke="#1e1e1e" stroke-width="0.9"/>
<text x="299.90" y="211.75" font-size="8.4" text-anchor="end" font-weight="normal" font-style="normal" fill="#1a1a1a" >3</text>
<line x1="303.30" y1="237.40" x2="305.90" y2="237.40" stroke="#1e1e1e" stroke-width="0.9"/>
<text x="299.90" y="240.30" font-size="8.4" text-anchor="end" font-weight="normal" font-style="normal" fill="#1a1a1a" >2</text>
<line x1="303.30" y1="265.95" x2="305.90" y2="265.95" stroke="#1e1e1e" stroke-width="0.9"/>
<text x="299.90" y="268.85" font-size="8.4" text-anchor="end" font-weight="normal" font-style="normal" fill="#1a1a1a" >1</text>
<line x1="303.30" y1="294.50" x2="305.90" y2="294.50" stroke="#1e1e1e" stroke-width="0.9"/>
<text x="299.90" y="297.40" font-size="8.4" text-anchor="end" font-weight="normal" font-style="normal" fill="#1a1a1a" >0</text>
<line x1="305.90" y1="295.00" x2="381.50" y2="295.00" stroke="#1e1e1e" stroke-width="1.25"/>
<line x1="305.90" y1="295.00" x2="305.90" y2="297.60" stroke="#1e1e1e" stroke-width="0.9"/>
<line x1="381.20" y1="295.00" x2="381.20" y2="297.60" stroke="#1e1e1e" stroke-width="0.9"/>
<line x1="316.30" y1="280.00" x2="316.30" y2="284.70" stroke="#222" stroke-width="0.9"/>
<line x1="313.50" y1="280.00" x2="319.10" y2="280.00" stroke="#222" stroke-width="0.9"/>
<rect x="309.60" y="284.70" width="13.40" height="9.80" fill="#b2002a" />
<line x1="334.50" y1="220.20" x2="334.50" y2="242.00" stroke="#222" stroke-width="0.9"/>
<line x1="331.70" y1="220.20" x2="337.30" y2="220.20" stroke="#222" stroke-width="0.9"/>
<rect x="327.80" y="242.00" width="13.40" height="52.50" fill="#2b4c82" />
<line x1="352.20" y1="226.00" x2="352.20" y2="243.70" stroke="#222" stroke-width="0.9"/>
<line x1="349.40" y1="226.00" x2="355.00" y2="226.00" stroke="#222" stroke-width="0.9"/>
<rect x="345.50" y="243.70" width="13.40" height="50.80" fill="#6aac44" />
<line x1="370.25" y1="269.80" x2="370.25" y2="278.90" stroke="#222" stroke-width="0.9"/>
<line x1="367.45" y1="269.80" x2="373.05" y2="269.80" stroke="#222" stroke-width="0.9"/>
<rect x="363.60" y="278.90" width="13.30" height="15.60" fill="#54205f" />
<text x="289.40" y="250.00" font-size="8.6" fill="#1a1a1a" style="stroke-width:0.15px" text-anchor="middle" transform="rotate(-90 289.40 250.00)" textLength="41.60" lengthAdjust="spacingAndGlyphs">CCL2 mRNA</text>
<path d="M316.30,213.90 V212.10 H334.50 V213.90" fill="none" stroke="#1e1e1e" stroke-width="1.05"/>
<text x="326.00" y="212.40" font-size="7.2" text-anchor="middle" font-weight="normal" font-style="normal" fill="#000" letter-spacing="0.6">**</text>
<path d="M334.50,210.70 V208.90 H370.30 V210.70" fill="none" stroke="#1e1e1e" stroke-width="1.05"/>
<text x="352.60" y="208.80" font-size="7.2" text-anchor="middle" font-weight="normal" font-style="normal" fill="#000" letter-spacing="0.6">*</text>
<path d="M352.20,219.90 V218.10 H370.30 V219.90" fill="none" stroke="#1e1e1e" stroke-width="1.05"/>
<text x="362.40" y="218.00" font-size="7.2" text-anchor="middle" font-weight="normal" font-style="normal" fill="#000" letter-spacing="0.6">*</text>
<text x="304.20" y="308.50" font-size="8.8" text-anchor="end" font-weight="normal" font-style="normal" fill="#1a1a1a" textLength="13.90" lengthAdjust="spacingAndGlyphs" >IL-9</text>
<text x="304.20" y="320.50" font-size="8.8" text-anchor="end" font-weight="normal" font-style="normal" fill="#1a1a1a" textLength="23.20" lengthAdjust="spacingAndGlyphs" >ctr Ab</text>
<text x="304.20" y="332.70" font-size="8.8" text-anchor="end" font-weight="normal" font-style="normal" fill="#1a1a1a" textLength="27.20" lengthAdjust="spacingAndGlyphs" >IL-9 Ab</text>
<line x1="315.10" y1="306.20" x2="317.50" y2="306.20" stroke="#333" stroke-width="1.0"/>
<line x1="332.00" y1="305.90" x2="336.60" y2="305.90" stroke="#222" stroke-width="1.0"/>
<line x1="334.30" y1="303.60" x2="334.30" y2="308.20" stroke="#222" stroke-width="1.0"/>
<line x1="349.90" y1="305.90" x2="354.50" y2="305.90" stroke="#222" stroke-width="1.0"/>
<line x1="352.20" y1="303.60" x2="352.20" y2="308.20" stroke="#222" stroke-width="1.0"/>
<line x1="367.90" y1="305.90" x2="372.50" y2="305.90" stroke="#222" stroke-width="1.0"/>
<line x1="370.20" y1="303.60" x2="370.20" y2="308.20" stroke="#222" stroke-width="1.0"/>
<line x1="315.10" y1="318.20" x2="317.50" y2="318.20" stroke="#333" stroke-width="1.0"/>
<line x1="333.10" y1="318.20" x2="335.50" y2="318.20" stroke="#333" stroke-width="1.0"/>
<line x1="349.90" y1="317.90" x2="354.50" y2="317.90" stroke="#222" stroke-width="1.0"/>
<line x1="352.20" y1="315.60" x2="352.20" y2="320.20" stroke="#222" stroke-width="1.0"/>
<line x1="369.00" y1="318.20" x2="371.40" y2="318.20" stroke="#333" stroke-width="1.0"/>
<line x1="315.10" y1="330.00" x2="317.50" y2="330.00" stroke="#333" stroke-width="1.0"/>
<line x1="333.10" y1="330.00" x2="335.50" y2="330.00" stroke="#333" stroke-width="1.0"/>
<line x1="351.00" y1="330.00" x2="353.40" y2="330.00" stroke="#333" stroke-width="1.0"/>
<line x1="367.90" y1="329.70" x2="372.50" y2="329.70" stroke="#222" stroke-width="1.0"/>
<line x1="370.20" y1="327.40" x2="370.20" y2="332.00" stroke="#222" stroke-width="1.0"/>
<text x="400.95" y="185.85" font-size="11.0" text-anchor="start" font-weight="bold" font-style="normal" fill="#000"  style="stroke:#000;stroke-width:0.4px">F</text>
<line x1="434.90" y1="206.70" x2="434.90" y2="294.80" stroke="#1e1e1e" stroke-width="1.25"/>
<line x1="432.30" y1="208.92" x2="434.90" y2="208.92" stroke="#1e1e1e" stroke-width="0.9"/>
<text x="428.90" y="211.82" font-size="8.4" text-anchor="end" font-weight="normal" font-style="normal" fill="#1a1a1a" >8</text>
<line x1="432.30" y1="230.34" x2="434.90" y2="230.34" stroke="#1e1e1e" stroke-width="0.9"/>
<text x="428.90" y="233.24" font-size="8.4" text-anchor="end" font-weight="normal" font-style="normal" fill="#1a1a1a" >6</text>
<line x1="432.30" y1="251.76" x2="434.90" y2="251.76" stroke="#1e1e1e" stroke-width="0.9"/>
<text x="428.90" y="254.66" font-size="8.4" text-anchor="end" font-weight="normal" font-style="normal" fill="#1a1a1a" >4</text>
<line x1="432.30" y1="273.18" x2="434.90" y2="273.18" stroke="#1e1e1e" stroke-width="0.9"/>
<text x="428.90" y="276.08" font-size="8.4" text-anchor="end" font-weight="normal" font-style="normal" fill="#1a1a1a" >2</text>
<line x1="432.30" y1="294.60" x2="434.90" y2="294.60" stroke="#1e1e1e" stroke-width="0.9"/>
<text x="428.90" y="297.50" font-size="8.4" text-anchor="end" font-weight="normal" font-style="normal" fill="#1a1a1a" >0</text>
<line x1="434.90" y1="294.80" x2="512.00" y2="294.80" stroke="#1e1e1e" stroke-width="1.25"/>
<line x1="434.90" y1="294.80" x2="434.90" y2="297.50" stroke="#1e1e1e" stroke-width="0.9"/>
<line x1="511.60" y1="294.80" x2="511.60" y2="297.40" stroke="#1e1e1e" stroke-width="0.9"/>
<line x1="445.30" y1="268.60" x2="445.30" y2="273.90" stroke="#222" stroke-width="0.9"/>
<line x1="442.50" y1="268.60" x2="448.10" y2="268.60" stroke="#222" stroke-width="0.9"/>
<rect x="438.90" y="273.90" width="12.80" height="20.50" fill="#b2002a" />
<line x1="463.20" y1="236.60" x2="463.20" y2="240.20" stroke="#222" stroke-width="0.9"/>
<line x1="460.40" y1="236.60" x2="466.00" y2="236.60" stroke="#222" stroke-width="0.9"/>
<rect x="456.60" y="240.20" width="13.20" height="54.20" fill="#2b4c82" />
<line x1="481.10" y1="239.80" x2="481.10" y2="243.60" stroke="#222" stroke-width="0.9"/>
<line x1="478.30" y1="239.80" x2="483.90" y2="239.80" stroke="#222" stroke-width="0.9"/>
<rect x="474.30" y="243.60" width="13.60" height="50.80" fill="#6aac44" />
<line x1="498.90" y1="264.50" x2="498.90" y2="268.10" stroke="#222" stroke-width="0.9"/>
<line x1="496.10" y1="264.50" x2="501.70" y2="264.50" stroke="#222" stroke-width="0.9"/>
<rect x="492.20" y="268.10" width="13.40" height="26.30" fill="#54205f" />
<text x="417.80" y="250.40" font-size="8.6" fill="#1a1a1a" style="stroke-width:0.15px" text-anchor="middle" transform="rotate(-90 417.80 250.40)" textLength="42.80" lengthAdjust="spacingAndGlyphs">CCL2, ng/ml</text>
<path d="M445.30,223.90 V222.10 H463.20 V223.90" fill="none" stroke="#1e1e1e" stroke-width="1.05"/>
<text x="454.80" y="221.60" font-size="7.2" text-anchor="middle" font-weight="normal" font-style="normal" fill="#000" letter-spacing="0.6">***</text>
<path d="M463.20,218.80 V217.00 H498.90 V218.80" fill="none" stroke="#1e1e1e" stroke-width="1.05"/>
<text x="481.40" y="217.30" font-size="7.2" text-anchor="middle" font-weight="normal" font-style="normal" fill="#000" letter-spacing="0.6">***</text>
<path d="M481.10,229.40 V227.60 H498.90 V229.40" fill="none" stroke="#1e1e1e" stroke-width="1.05"/>
<text x="491.00" y="227.30" font-size="7.2" text-anchor="middle" font-weight="normal" font-style="normal" fill="#000" letter-spacing="0.6">***</text>
<text x="433.50" y="307.00" font-size="8.8" text-anchor="end" font-weight="normal" font-style="normal" fill="#1a1a1a" textLength="13.90" lengthAdjust="spacingAndGlyphs" >IL-9</text>
<text x="433.50" y="319.20" font-size="8.8" text-anchor="end" font-weight="normal" font-style="normal" fill="#1a1a1a" textLength="23.10" lengthAdjust="spacingAndGlyphs" >ctr Ab</text>
<text x="433.50" y="333.10" font-size="8.8" text-anchor="end" font-weight="normal" font-style="normal" fill="#1a1a1a" textLength="27.00" lengthAdjust="spacingAndGlyphs" >IL-9 Ab</text>
<line x1="444.50" y1="304.90" x2="446.30" y2="304.90" stroke="#333" stroke-width="1.0"/>
<line x1="460.90" y1="304.60" x2="465.50" y2="304.60" stroke="#222" stroke-width="1.0"/>
<line x1="463.20" y1="302.30" x2="463.20" y2="306.90" stroke="#222" stroke-width="1.0"/>
<line x1="478.80" y1="304.60" x2="483.40" y2="304.60" stroke="#222" stroke-width="1.0"/>
<line x1="481.10" y1="302.30" x2="481.10" y2="306.90" stroke="#222" stroke-width="1.0"/>
<line x1="496.90" y1="304.60" x2="501.50" y2="304.60" stroke="#222" stroke-width="1.0"/>
<line x1="499.20" y1="302.30" x2="499.20" y2="306.90" stroke="#222" stroke-width="1.0"/>
<line x1="444.50" y1="316.90" x2="446.30" y2="316.90" stroke="#333" stroke-width="1.0"/>
<line x1="462.30" y1="316.90" x2="464.10" y2="316.90" stroke="#333" stroke-width="1.0"/>
<line x1="478.80" y1="316.60" x2="483.40" y2="316.60" stroke="#222" stroke-width="1.0"/>
<line x1="481.10" y1="314.30" x2="481.10" y2="318.90" stroke="#222" stroke-width="1.0"/>
<line x1="498.30" y1="316.90" x2="500.10" y2="316.90" stroke="#333" stroke-width="1.0"/>
<line x1="444.50" y1="331.00" x2="446.30" y2="331.00" stroke="#333" stroke-width="1.0"/>
<line x1="462.30" y1="331.00" x2="464.10" y2="331.00" stroke="#333" stroke-width="1.0"/>
<line x1="480.20" y1="331.00" x2="482.00" y2="331.00" stroke="#333" stroke-width="1.0"/>
<line x1="496.90" y1="330.70" x2="501.50" y2="330.70" stroke="#222" stroke-width="1.0"/>
<line x1="499.20" y1="328.40" x2="499.20" y2="333.00" stroke="#222" stroke-width="1.0"/>
<text x="143.15" y="364.75" font-size="11.0" text-anchor="start" font-weight="bold" font-style="normal" fill="#000"  style="stroke:#000;stroke-width:0.4px">G</text>
<line x1="176.10" y1="373.00" x2="176.10" y2="458.90" stroke="#1e1e1e" stroke-width="1.25"/>
<line x1="173.50" y1="374.80" x2="176.10" y2="374.80" stroke="#1e1e1e" stroke-width="0.9"/>
<text x="170.10" y="377.70" font-size="8.4" text-anchor="end" font-weight="normal" font-style="normal" fill="#1a1a1a" >8</text>
<line x1="173.50" y1="395.70" x2="176.10" y2="395.70" stroke="#1e1e1e" stroke-width="0.9"/>
<text x="170.10" y="398.60" font-size="8.4" text-anchor="end" font-weight="normal" font-style="normal" fill="#1a1a1a" >6</text>
<line x1="173.50" y1="416.60" x2="176.10" y2="416.60" stroke="#1e1e1e" stroke-width="0.9"/>
<text x="170.10" y="419.50" font-size="8.4" text-anchor="end" font-weight="normal" font-style="normal" fill="#1a1a1a" >4</text>
<line x1="173.50" y1="437.50" x2="176.10" y2="437.50" stroke="#1e1e1e" stroke-width="0.9"/>
<text x="170.10" y="440.40" font-size="8.4" text-anchor="end" font-weight="normal" font-style="normal" fill="#1a1a1a" >2</text>
<line x1="173.50" y1="458.40" x2="176.10" y2="458.40" stroke="#1e1e1e" stroke-width="0.9"/>
<text x="170.10" y="461.30" font-size="8.4" text-anchor="end" font-weight="normal" font-style="normal" fill="#1a1a1a" >0</text>
<line x1="176.10" y1="458.90" x2="309.00" y2="458.90" stroke="#1e1e1e" stroke-width="1.25"/>
<line x1="176.10" y1="458.90" x2="176.10" y2="461.50" stroke="#1e1e1e" stroke-width="0.9"/>
<line x1="195.60" y1="458.90" x2="195.60" y2="461.50" stroke="#1e1e1e" stroke-width="0.9"/>
<line x1="213.90" y1="458.90" x2="213.90" y2="461.50" stroke="#1e1e1e" stroke-width="0.9"/>
<line x1="232.70" y1="458.90" x2="232.70" y2="461.50" stroke="#1e1e1e" stroke-width="0.9"/>
<line x1="251.00" y1="458.90" x2="251.00" y2="461.50" stroke="#1e1e1e" stroke-width="0.9"/>
<line x1="269.30" y1="458.90" x2="269.30" y2="461.50" stroke="#1e1e1e" stroke-width="0.9"/>
<line x1="287.60" y1="458.90" x2="287.60" y2="461.50" stroke="#1e1e1e" stroke-width="0.9"/>
<line x1="305.90" y1="458.90" x2="305.90" y2="461.50" stroke="#1e1e1e" stroke-width="0.9"/>
<line x1="185.35" y1="452.30" x2="185.35" y2="454.30" stroke="#222" stroke-width="0.9"/>
<line x1="182.55" y1="452.30" x2="188.15" y2="452.30" stroke="#222" stroke-width="0.9"/>
<rect x="179.00" y="454.30" width="12.70" height="4.10" fill="#4a5066" />
<line x1="204.25" y1="431.60" x2="204.25" y2="434.80" stroke="#222" stroke-width="0.9"/>
<line x1="201.45" y1="431.60" x2="207.05" y2="431.60" stroke="#222" stroke-width="0.9"/>
<rect x="197.80" y="434.80" width="12.90" height="23.60" fill="#c4001c" />
<line x1="222.65" y1="424.30" x2="222.65" y2="433.50" stroke="#222" stroke-width="0.9"/>
<line x1="219.85" y1="424.30" x2="225.45" y2="424.30" stroke="#222" stroke-width="0.9"/>
<rect x="216.30" y="433.50" width="12.70" height="24.90" fill="#c4001c" />
<line x1="241.45" y1="444.50" x2="241.45" y2="451.10" stroke="#222" stroke-width="0.9"/>
<line x1="238.65" y1="444.50" x2="244.25" y2="444.50" stroke="#222" stroke-width="0.9"/>
<rect x="235.10" y="451.10" width="12.70" height="7.30" fill="#c4001c" />
<line x1="259.85" y1="406.50" x2="259.85" y2="410.10" stroke="#222" stroke-width="0.9"/>
<line x1="257.05" y1="406.50" x2="262.65" y2="406.50" stroke="#222" stroke-width="0.9"/>
<rect x="253.40" y="410.10" width="12.90" height="48.30" fill="#da8318" />
<line x1="278.65" y1="396.70" x2="278.65" y2="410.40" stroke="#222" stroke-width="0.9"/>
<line x1="275.85" y1="396.70" x2="281.45" y2="396.70" stroke="#222" stroke-width="0.9"/>
<rect x="272.20" y="410.40" width="12.90" height="48.00" fill="#da8318" />
<line x1="297.05" y1="428.40" x2="297.05" y2="447.40" stroke="#222" stroke-width="0.9"/>
<line x1="294.25" y1="428.40" x2="299.85" y2="428.40" stroke="#222" stroke-width="0.9"/>
<rect x="290.70" y="447.40" width="12.70" height="11.00" fill="#da8318" />
<text x="159.20" y="414.90" font-size="8.6" fill="#1a1a1a" style="stroke-width:0.15px" text-anchor="middle" transform="rotate(-90 159.20 414.90)" textLength="45.60" lengthAdjust="spacingAndGlyphs">CCCL2 mRNA</text>
<path d="M185.0,385.0 V383.0 H259.5 V377.0 H297.5 V379.0" fill="none" stroke="#1e1e1e" stroke-width="1.05"/>
<text x="223.50" y="383.30" font-size="7.2" text-anchor="middle" font-weight="normal" font-style="normal" fill="#000" letter-spacing="0.6">**</text>
<text x="279.70" y="379.00" font-size="7.2" text-anchor="middle" font-weight="normal" font-style="normal" fill="#000" letter-spacing="0.6">**</text>
<path d="M278.80,385.60 V383.80 H297.50 V385.60" fill="none" stroke="#1e1e1e" stroke-width="1.05"/>
<text x="288.30" y="385.50" font-size="7.2" text-anchor="middle" font-weight="normal" font-style="normal" fill="#000" letter-spacing="0.6">*</text>
<path d="M185.0,398.1 V396.3 H203.8 V390.5 H241.3 V392.3" fill="none" stroke="#1e1e1e" stroke-width="1.05"/>
<text x="194.80" y="397.00" font-size="7.2" text-anchor="middle" font-weight="normal" font-style="normal" fill="#000" letter-spacing="0.6">*</text>
<text x="222.80" y="392.00" font-size="7.2" text-anchor="middle" font-weight="normal" font-style="normal" fill="#000" letter-spacing="0.6">*</text>
<path d="M222.50,399.30 V397.50 H241.30 V399.30" fill="none" stroke="#1e1e1e" stroke-width="1.05"/>
<text x="233.30" y="398.20" font-size="7.2" text-anchor="middle" font-weight="normal" font-style="normal" fill="#000" letter-spacing="0.6">**</text>
<text x="169.80" y="470.40" font-size="8.8" text-anchor="end" font-weight="normal" font-style="normal" fill="#1a1a1a" textLength="23.30" lengthAdjust="spacingAndGlyphs" >ctr Ab</text>
<text x="169.80" y="482.70" font-size="8.8" text-anchor="end" font-weight="normal" font-style="normal" fill="#1a1a1a" textLength="26.90" lengthAdjust="spacingAndGlyphs" >IL-9 Ab</text>
<line x1="184.20" y1="468.30" x2="186.60" y2="468.30" stroke="#333" stroke-width="1.0"/>
<line x1="202.60" y1="468.30" x2="205.00" y2="468.30" stroke="#333" stroke-width="1.0"/>
<line x1="220.10" y1="468.00" x2="224.70" y2="468.00" stroke="#222" stroke-width="1.0"/>
<line x1="222.40" y1="465.70" x2="222.40" y2="470.30" stroke="#222" stroke-width="1.0"/>
<line x1="239.80" y1="468.30" x2="242.20" y2="468.30" stroke="#333" stroke-width="1.0"/>
<line x1="258.40" y1="468.30" x2="260.80" y2="468.30" stroke="#333" stroke-width="1.0"/>
<line x1="276.10" y1="468.00" x2="280.70" y2="468.00" stroke="#222" stroke-width="1.0"/>
<line x1="278.40" y1="465.70" x2="278.40" y2="470.30" stroke="#222" stroke-width="1.0"/>
<line x1="296.10" y1="468.30" x2="298.50" y2="468.30" stroke="#333" stroke-width="1.0"/>
<line x1="184.20" y1="480.40" x2="186.60" y2="480.40" stroke="#333" stroke-width="1.0"/>
<line x1="202.60" y1="480.40" x2="205.00" y2="480.40" stroke="#333" stroke-width="1.0"/>
<line x1="221.20" y1="480.40" x2="223.60" y2="480.40" stroke="#333" stroke-width="1.0"/>
<line x1="238.70" y1="480.10" x2="243.30" y2="480.10" stroke="#222" stroke-width="1.0"/>
<line x1="241.00" y1="477.80" x2="241.00" y2="482.40" stroke="#222" stroke-width="1.0"/>
<line x1="258.40" y1="480.40" x2="260.80" y2="480.40" stroke="#333" stroke-width="1.0"/>
<line x1="277.20" y1="480.40" x2="279.60" y2="480.40" stroke="#333" stroke-width="1.0"/>
<line x1="295.00" y1="480.10" x2="299.60" y2="480.10" stroke="#222" stroke-width="1.0"/>
<line x1="297.30" y1="477.80" x2="297.30" y2="482.40" stroke="#222" stroke-width="1.0"/>
<rect x="316.70" y="377.30" width="4.20" height="3.90" fill="#4a5066" />
<rect x="316.70" y="387.30" width="4.20" height="3.90" fill="#c4001c" />
<rect x="316.70" y="396.90" width="4.20" height="3.90" fill="#da8318" />
<text x="324.40" y="381.50" font-size="8.5" text-anchor="start" font-weight="normal" font-style="normal" fill="#1a1a1a" textLength="28.30" lengthAdjust="spacingAndGlyphs" >medium</text>
<text x="324.40" y="391.20" font-size="8.5" text-anchor="start" font-weight="normal" font-style="normal" fill="#1a1a1a" textLength="30.20" lengthAdjust="spacingAndGlyphs" >TCL1 SN</text>
<text x="324.4" y="400.8" font-size="8.5" fill="#1a1a1a" textLength="51.9" lengthAdjust="spacingAndGlyphs">TCL1/p66<tspan font-size="4.6" dy="-3.2" style="stroke:none">-/-</tspan><tspan dy="3.2"> SN</tspan></text>
<rect x="0.5" y="0.5" width="519" height="491" fill="none" stroke="#000" stroke-width="1"/>
</svg>
</body></html>
